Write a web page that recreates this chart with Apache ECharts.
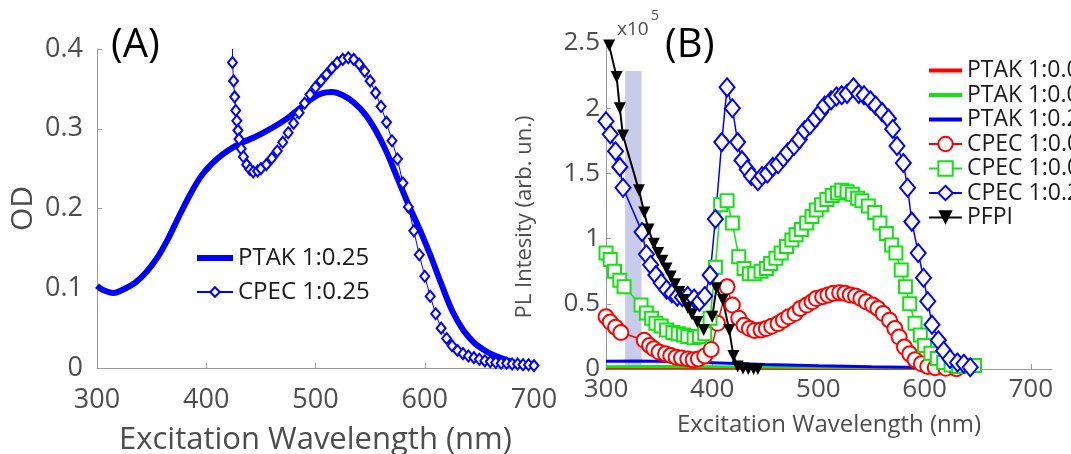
<!DOCTYPE html>
<html>
<head>
<meta charset="utf-8">
<script src="https://cdn.jsdelivr.net/npm/echarts@6/dist/echarts.min.js"></script>
<style>
  html, body { margin: 0; padding: 0; background: #fff; }
  #chart { width: 1071px; height: 454px; }
</style>
</head>
<body>
<div id="chart"></div>
<script>
// Panel A: absorbance (OD) vs wavelength
const ptakA = [[300,0.103],[305,0.098],[315,0.094],[325,0.099],[335,0.107],[345,0.12],[355,0.138],[365,0.162],[375,0.19],[385,0.217],[395,0.24],[405,0.256],[415,0.268],[425,0.277],[435,0.284],[445,0.29],[455,0.297],[465,0.305],[475,0.314],[485,0.325],[495,0.336],[505,0.344],[515,0.346],[525,0.342],[535,0.333],[545,0.319],[555,0.298],[565,0.271],[575,0.238],[585,0.205],[595,0.175],[605,0.142],[615,0.106],[625,0.072],[635,0.048],[645,0.032],[655,0.022],[665,0.015],[675,0.01],[685,0.006],[700,0.004]];
const cpecA = [[424,0.40],[424,0.383],[425,0.36],[426,0.34],[427,0.323],[428,0.31],[429,0.298],[430,0.287],[432,0.275],[434,0.265],[437,0.255],[440,0.249],[443,0.246],[447,0.247],[450,0.25],[455,0.255],[460,0.263],[465,0.272],[470,0.283],[475,0.295],[480,0.307],[485,0.32],[490,0.332],[495,0.343],[500,0.352],[505,0.36],[510,0.368],[515,0.376],[520,0.383],[525,0.387],[530,0.389],[535,0.387],[540,0.381],[545,0.372],[550,0.36],[555,0.345],[560,0.328],[565,0.308],[570,0.285],[575,0.262],[580,0.232],[585,0.202],[590,0.172],[595,0.142],[600,0.115],[605,0.09],[610,0.068],[615,0.05],[620,0.037],[625,0.028],[630,0.022],[635,0.018],[640,0.015],[645,0.013],[650,0.011],[655,0.009],[660,0.008],[665,0.007],[670,0.006],[675,0.006],[680,0.005],[685,0.005],[690,0.004],[695,0.004],[700,0.003]];

// Panel B: PL intensity (x10^5) vs excitation wavelength
const ptak001 = [[300,0.008],[400,0.007],[500,0.004],[600,0.003],[650,0.001]];
const ptak005 = [[300,0.018],[350,0.02],[400,0.018],[500,0.012],[600,0.008],[650,0.004]];
const ptak025 = [[300,0.06],[330,0.062],[360,0.058],[400,0.048],[450,0.035],[500,0.025],[550,0.018],[600,0.012],[650,0.006]];
const cpec001 = [[300,0.4],[304,0.36],[309,0.32],[314,0.28],[336,0.22],[341,0.18],[345,0.155],[350,0.13],[356,0.116],[361,0.103],[366,0.09],[371,0.085],[377,0.077],[382,0.07],[387,0.077],[393,0.1],[399,0.15],[405,0.35],[414,0.63],[419,0.49],[425,0.39],[430,0.335],[435,0.31],[440,0.296],[446,0.3],[451,0.31],[456,0.327],[462,0.348],[467,0.374],[472,0.4],[478,0.425],[483,0.464],[489,0.49],[494,0.515],[498,0.54],[504,0.554],[509,0.567],[514,0.58],[520,0.585],[525,0.58],[530,0.567],[535,0.56],[540,0.54],[545,0.515],[551,0.49],[556,0.464],[561,0.425],[567,0.374],[572,0.31],[576,0.245],[581,0.168],[586,0.116],[591,0.07],[597,0.04],[603,0.02],[610,0.01],[620,0.005],[630,0.002]];
const cpec005 = [[300,0.89],[304,0.84],[308,0.75],[313,0.68],[317,0.63],[333,0.49],[338,0.43],[343,0.39],[347,0.35],[352,0.33],[357,0.3],[363,0.28],[368,0.27],[373,0.26],[377,0.25],[383,0.24],[388,0.25],[393,0.27],[398,0.39],[403,0.78],[408,1.26],[414,1.29],[419,1.12],[425,0.86],[430,0.77],[435,0.73],[440,0.73],[446,0.75],[451,0.77],[455,0.81],[460,0.85],[465,0.89],[470,0.94],[475,0.99],[479,1.03],[484,1.07],[489,1.12],[494,1.17],[498,1.22],[503,1.26],[508,1.3],[513,1.33],[518,1.35],[522,1.37],[527,1.36],[532,1.34],[537,1.31],[541,1.29],[547,1.25],[553,1.2],[558,1.12],[564,1.04],[569,0.95],[573,0.89],[578,0.76],[582,0.63],[586,0.5],[591,0.35],[596,0.26],[600,0.18],[606,0.12],[612,0.08],[618,0.05],[625,0.03],[632,0.02],[641,0.026],[647,0.026]];
const cpec025 = [[300,1.9],[304,1.8],[309,1.67],[313,1.55],[316,1.39],[334,1.05],[338,0.88],[342,0.8],[347,0.72],[352,0.66],[357,0.61],[362,0.58],[367,0.555],[372,0.55],[377,0.56],[383,0.54],[388,0.515],[393,0.56],[398,0.72],[403,1.15],[409,1.74],[414,2.16],[419,2.0],[424,1.74],[428,1.6],[433,1.53],[437,1.48],[443,1.44],[447,1.48],[452,1.5],[457,1.55],[462,1.57],[467,1.62],[471,1.66],[477,1.71],[482,1.76],[487,1.83],[492,1.87],[497,1.92],[502,1.97],[506,2.02],[512,2.06],[517,2.09],[522,2.1],[527,2.11],[533,2.16],[538,2.11],[543,2.1],[549,2.06],[554,2.02],[560,1.97],[566,1.92],[570,1.84],[574,1.71],[580,1.58],[584,1.39],[588,1.13],[594,0.89],[599,0.7],[603,0.52],[607,0.34],[613,0.22],[618,0.14],[624,0.077],[631,0.05],[637,0.04],[643,0.013]];
const pfpi = [[303,2.48],[310,2.24],[313,2.0],[316,1.79],[331,1.37],[336,1.2],[340,1.07],[345,0.96],[349,0.89],[353,0.83],[357,0.77],[361,0.71],[365,0.65],[369,0.59],[373,0.53],[377,0.47],[381,0.42],[386,0.36],[392,0.3],[400,0.4],[404,0.62],[410,0.53],[416,0.3],[420,0.1],[424,0.02],[429,0.003],[434,0],[439,0],[443,0]];
// shaded excitation band [start nm, end nm, top]
const band = [318, 333.5, 2.285];

const xTicks = [300, 400, 500, 600, 700];

const FONT = 'Open Sans';
const GREY = '#4d4d4d';
const AXIS = '#9a9a9a';
const RED = '#ff0000', GREEN = '#14e014', BLUE = '#0000ff';

const chart = echarts.init(document.getElementById('chart'));

const axisCommon = {
  axisLine: { show: true, lineStyle: { color: AXIS, width: 1 } },
  axisTick: { show: true, inside: true, length: 5, lineStyle: { color: AXIS } },
  splitLine: { show: false },
  nameTextStyle: { color: GREY, fontFamily: FONT }
};

const markerSeries = (name, data, symbol, size, color, lineWidth) => ({
  name, type: 'line', xAxisIndex: 1, yAxisIndex: 1, data,
  symbol, symbolSize: size, showAllSymbol: true,
  lineStyle: { color, width: lineWidth },
  itemStyle: { color, borderColor: color, borderWidth: 1.6 }
});

const plainSeries = (name, data, color) => ({
  name, type: 'line', xAxisIndex: 1, yAxisIndex: 1, data,
  symbol: 'none', lineStyle: { color, width: 3 }, itemStyle: { color }
});

// legend entry that shows only a line (no marker)
const lineOnly = (name, width) => ({ name, itemStyle: { opacity: 0 }, lineStyle: { width } });

const option = {
  animation: false,
  textStyle: { fontFamily: FONT },
  grid: [
    { left: 97, top: 49, width: 437, height: 319, outerBoundsMode: 'none' },
    { left: 606, top: 43, width: 446, height: 326, outerBoundsMode: 'none' }
  ],
  xAxis: [
    Object.assign({}, axisCommon, {
      gridIndex: 0, type: 'value', min: 300, max: 700, interval: 100,
      name: 'Excitation Wavelength (nm)', nameLocation: 'middle', nameGap: 57,
      nameTextStyle: { color: GREY, fontFamily: FONT, fontSize: 31 },
      axisLabel: { color: GREY, fontSize: 27, margin: 19, fontFamily: FONT }
    }),
    Object.assign({}, axisCommon, {
      gridIndex: 1, type: 'value', min: 300, max: 720,
      axisTick: Object.assign({}, axisCommon.axisTick, { customValues: xTicks }),
      name: 'Excitation Wavelength (nm)', nameLocation: 'middle', nameGap: 44,
      nameTextStyle: { color: GREY, fontFamily: FONT, fontSize: 24 },
      axisLabel: { color: GREY, fontSize: 26, margin: 8, fontFamily: FONT, customValues: xTicks }
    })
  ],
  yAxis: [
    Object.assign({}, axisCommon, {
      gridIndex: 0, type: 'value', min: 0, max: 0.4, interval: 0.1,
      name: 'OD', nameLocation: 'middle', nameGap: 59,
      nameTextStyle: { color: GREY, fontFamily: FONT, fontSize: 30 },
      axisLabel: { color: GREY, fontSize: 27, margin: 14, fontFamily: FONT }
    }),
    Object.assign({}, axisCommon, {
      gridIndex: 1, type: 'value', min: 0, max: 2.5, interval: 0.5,
      name: 'PL Intesity (arb. un.)', nameLocation: 'middle', nameGap: 70,
      nameTextStyle: { color: GREY, fontFamily: FONT, fontSize: 22, padding: [0, 22, 0, 0] },
      axisLabel: { color: GREY, fontSize: 26, margin: 6, fontFamily: FONT }
    })
  ],
  legend: [
    {
      left: 189, top: 241, orient: 'vertical', itemWidth: 36, itemHeight: 12, itemGap: 10,
      textStyle: { fontSize: 24, color: '#1a1a1a', fontFamily: FONT },
      data: [lineOnly('PTAK 1:0.25', 6), 'CPEC 1:0.25']
    },
    {
      left: 922, top: 54, orient: 'vertical', itemWidth: 33, itemHeight: 18, itemGap: 1.5,
      textStyle: { fontSize: 23, color: '#1a1a1a', fontFamily: FONT },
      data: [
        lineOnly('PTAK 1:0.01', 4), lineOnly('PTAK 1:0.05', 4), lineOnly('PTAK 1:0.25', 4),
        'CPEC 1:0.01', 'CPEC 1:0.05',
        { name: 'CPEC 1:0.25', lineStyle: { width: 2 } },
        'PFPI'
      ]
    }
  ],
  graphic: [
    { type: 'text', left: 111, top: 26, style: { text: '(A)', fontSize: 40, fill: '#000', fontFamily: FONT } },
    { type: 'text', left: 665, top: 26, style: { text: '(B)', fontSize: 40, fill: '#000', fontFamily: FONT } },
    { type: 'text', left: 617, top: 20, style: { text: 'x10', fontSize: 19, fill: GREY, fontFamily: FONT } },
    { type: 'text', left: 651, top: 9, style: { text: '5', fontSize: 14, fill: GREY, fontFamily: FONT } }
  ],
  series: [
    {
      name: 'PTAK 1:0.25', type: 'line', xAxisIndex: 0, yAxisIndex: 0, data: ptakA,
      symbol: 'none', smooth: 0.3, lineStyle: { color: BLUE, width: 6 }, itemStyle: { color: BLUE }
    },
    {
      name: 'CPEC 1:0.25', type: 'line', xAxisIndex: 0, yAxisIndex: 0,
      data: cpecA.map((p, i) => i === 0 ? { value: p, symbol: 'none' } : p),
      symbol: 'emptyDiamond', symbolSize: [9, 11], showAllSymbol: true,
      lineStyle: { color: BLUE, width: 1 },
      itemStyle: { color: BLUE, borderColor: BLUE, borderWidth: 1 }
    },
    plainSeries('PTAK 1:0.01', ptak001, RED),
    plainSeries('PTAK 1:0.05', ptak005, GREEN),
    plainSeries('PTAK 1:0.25', ptak025, BLUE),
    markerSeries('CPEC 1:0.01', cpec001, 'emptyCircle', 15, RED, 1.5),
    markerSeries('CPEC 1:0.05', cpec005, 'emptyRect', 13, GREEN, 1.5),
    markerSeries('CPEC 1:0.25', cpec025, 'emptyDiamond', [15, 18], BLUE, 1.5),
    Object.assign(markerSeries('PFPI', pfpi, 'triangle', 12, '#000', 2), {
      symbolRotate: 180, itemStyle: { color: '#000' }
    }),
    {
      type: 'line', xAxisIndex: 1, yAxisIndex: 1, data: [], z: 20, silent: true,
      markArea: {
        silent: true,
        itemStyle: { color: '#c9cbeb', opacity: 1 },
        data: [[{ coord: [band[0], 0] }, { coord: [band[1], band[2]] }]]
      }
    }
  ]
};

chart.setOption(option);
</script>
</body>
</html>
